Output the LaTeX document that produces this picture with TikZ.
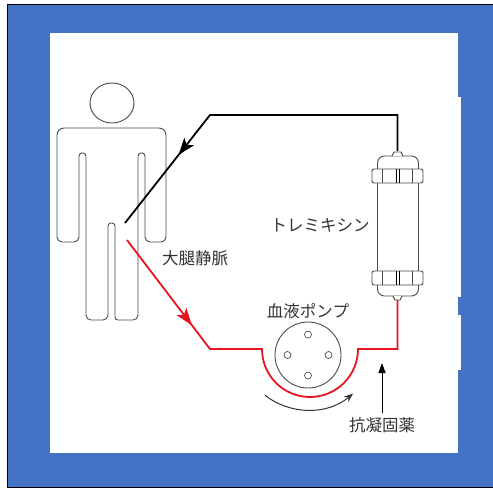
\documentclass[tikz,border=0pt]{standalone}
\usepackage{fontspec}
\newfontfamily\jpfont{Noto Sans CJK JP}
\usetikzlibrary{positioning, arrows.meta, decorations.markings}
\definecolor{frameblue}{RGB}{68,114,196}
\definecolor{tubered}{RGB}{232,20,32}
\tikzset{tubehead/.tip={Stealth[length=17pt, width=12pt, inset=4pt]}}

\begin{document}
\begin{tikzpicture}[x=1pt, y=-1pt, node distance=4pt]
    \tikzstyle{outline} = [draw=black!70, line width=0.9pt]
    \tikzstyle{lbl} = [inner sep=0pt, text=black!80, font=\jpfont\fontsize{16.5}{16.5}\selectfont]
    \tikzstyle{tube} = [line width=1.8pt]

    % frame
    \clip (0,0) rectangle (493,488);
    \fill[white] (0,0) rectangle (493,488);
    \draw[fill=frameblue, draw=black, line width=1pt] (7,4) rectangle (500,487);
    \fill[white] (50,33) rectangle (458,453);
    \fill[white] (458,97) rectangle (461,297);
    \fill[white] (458,315) rectangle (461,370);

    % patient
    \draw[outline] (112,103) ellipse [x radius=22, y radius=20];
    \draw[outline] (57,200) [rounded corners=7] -- (57,128) -- (166,128) [rounded corners=5]
        -- (166,242) -- (145,242) [rounded corners=3]
        -- (145,153) -- (138,153) [rounded corners=5] -- (138,320) [rounded corners=3] -- (115,320)
        -- (115,223) -- (108,223) [rounded corners=5] -- (108,320) -- (86,320) [rounded corners=3]
        -- (86,153) -- (79,153) [rounded corners=5] -- (79,242) -- (57,242) [sharp corners]
        -- cycle;
    \coordinate (vout) at (125,223);
    \coordinate (vin) at (127,240);

    % column
    \node[inner sep=0pt, minimum width=51pt, minimum height=149pt] (filter) at (397.5,225.5) {};
    \draw[outline, rounded corners=7] (377.5,170) -- (377.5,156) -- (418.5,156) -- (418.5,170);
    \draw[outline, rounded corners=7] (377.5,284) -- (377.5,296) -- (418.5,296) -- (418.5,284);
    \draw[outline, fill=white] (392,156) -- (394,152) -- (401,152) -- (403,156);
    \draw[outline, fill=white] (393,296) -- (395,300) -- (400,300) -- (402,296);
    \draw[outline] (377.5,183) -- (377.5,271) (418.5,183) -- (418.5,271);
    \foreach \cy in {169, 271} {
        \draw[outline, fill=white, rounded corners=2] (372,\cy) rectangle (423,\cy+14);
        \foreach \cx in {382, 412}
            \draw[outline] (\cx,\cy) -- (\cx,\cy+14);
        \draw[line width=1pt] (396,\cy) -- (396,\cy+14) (399,\cy) -- (399,\cy+14);
    }

    % pump
    \node[circle, outline, minimum size=66pt, inner sep=0pt] (pump) at (308,355) {};
    \foreach \a in {0, 90, 180, 270}
        \draw[outline, line width=0.7pt] (pump.center) ++(\a:20.5) circle (3.5);
    \draw[black!80, line width=1pt, -{Stealth[length=9pt, width=7pt]}]
        ([yshift=15pt]pump.center) ++(128:70) arc (128:50:70);

    % tubing
    \draw[tube, black, postaction={decorate}, decoration={markings,
        mark=at position 0.76 with {\arrow{tubehead}}}]
        (filter.north) -- (397.5,115) -- (210,115) -- (vout);
    \draw[tube, tubered, postaction={decorate}, decoration={markings,
        mark=at position 0.25 with {\arrow[fill=magenta!80!red]{tubehead}}}]
        (vin) -- (210,349) -- (262,349) arc (180:0:48) -- (397.5,349) -- (filter.south);

    % anticoagulant
    \coordinate (drug) at (382,413);
    \draw[line width=1pt, -{Triangle[length=10pt, width=7pt]}] (drug) -- (382,363);

    % labels
    \node[lbl] (veinlbl) at (195,258) {大腿静脈};
    \node[lbl, left=2pt of filter] (filterlbl) {トレミキシン};
    \node[lbl, above=3pt of pump] (pumplbl) {血液ポンプ};
    \node[lbl, below=4pt of drug] (druglbl) {抗凝固薬};
\end{tikzpicture}
\end{document}
